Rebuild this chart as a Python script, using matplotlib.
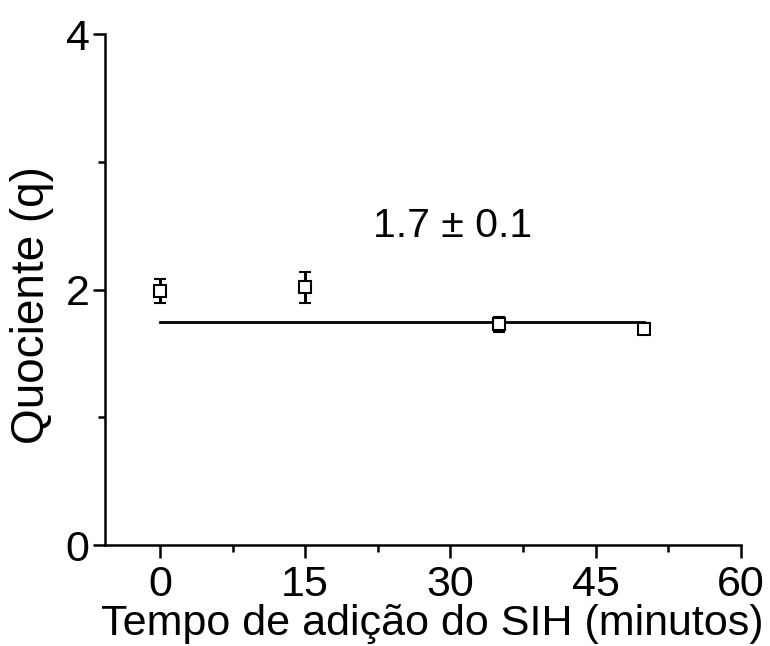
import numpy as np
import matplotlib.pyplot as plt
from matplotlib.ticker import MultipleLocator

plt.rcParams['font.family'] = ['Liberation Sans', 'DejaVu Sans']

tempo = [0, 15, 35, 50]
quociente = [1.99, 2.02, 1.73, 1.69]
erro = [0.095, 0.12, 0.06, 0.03]
media = 1.75
rotulo = '1.7 ± 0.1'

fig = plt.figure(figsize=(7.7, 6.46), dpi=100)
ax = fig.add_axes([0.136, 0.156, 0.826, 0.791])

ax.plot([tempo[0], tempo[-1]], [media, media], color='black', lw=2, zorder=1)
ax.errorbar(tempo, quociente, yerr=erro, fmt='s', mfc='white', mec='black', mew=1.5,
            ms=8.5, ecolor='black', elinewidth=2.2, capsize=4, capthick=2.2, zorder=2)
ax.text(30.2, 2.5, rotulo, fontsize=29.5, ha='center', va='center')

ax.set_xlim(-5.7, 60)
ax.set_ylim(0, 4)
ax.xaxis.set_major_locator(MultipleLocator(15))
ax.xaxis.set_minor_locator(MultipleLocator(7.5))
ax.yaxis.set_major_locator(MultipleLocator(2))
ax.yaxis.set_minor_locator(MultipleLocator(1))
ax.spines['top'].set_visible(False)
ax.spines['right'].set_visible(False)
for s in ['left', 'bottom']:
    ax.spines[s].set_linewidth(1.8)
ax.tick_params(which='major', length=9, width=1.8, labelsize=31)
ax.tick_params(which='minor', length=5, width=1.8)
ax.tick_params(axis='x', pad=5)
ax.tick_params(axis='y', pad=2)

ax.set_xlabel('Tempo de adição do SIH (minutos)', fontsize=31, labelpad=0)
ax.xaxis.set_label_coords(0.515, -0.115)
ax.set_ylabel('Quociente (q)', fontsize=33, va='center')
ax.yaxis.set_label_coords(-0.115, 0.47)

fig.savefig('out.png', dpi=100)
